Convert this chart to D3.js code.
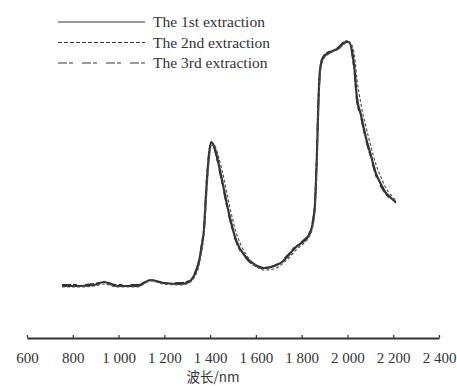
<!DOCTYPE html>
<html><head><meta charset="utf-8">
<script src="https://cdn.jsdelivr.net/npm/d3@7"></script>
<style>body{margin:0;background:#fff}</style>
</head><body>
<svg id="c" width="457" height="387"></svg>
<script>
const wavelengths = [753,827,893,936,993,1080,1141,1198,1272,1307,1329,1351,1364,1373,1386,1395,1404,1417,1425,1438,1452,1482,1513,1556,1591,1635,1679,1714,1744,1775,1810,1832,1845,1858,1866,1874,1883,1896,1918,1962,1993,2006,2019,2032,2041,2059,2080,2102,2124,2146,2168,2190,2211];
const series1 = [0.14,0.14,0.15,0.18,0.14,0.14,0.20,0.17,0.16,0.18,0.24,0.38,0.55,0.70,1.20,1.45,1.58,1.54,1.48,1.35,1.20,0.87,0.60,0.43,0.36,0.32,0.34,0.38,0.45,0.53,0.59,0.65,0.73,0.95,1.40,2.03,2.35,2.43,2.47,2.52,2.58,2.58,2.50,2.28,2.03,1.85,1.63,1.45,1.27,1.16,1.07,1.02,0.98];
const series2 = [0.13,0.13,0.14,0.16,0.13,0.13,0.19,0.16,0.15,0.17,0.22,0.34,0.50,0.64,1.10,1.38,1.54,1.55,1.52,1.42,1.30,0.97,0.68,0.46,0.36,0.30,0.31,0.36,0.42,0.50,0.57,0.63,0.70,0.90,1.32,1.95,2.30,2.41,2.46,2.51,2.57,2.58,2.55,2.42,2.22,1.96,1.74,1.54,1.36,1.23,1.12,1.05,1.00];
const series3 = [0.15,0.15,0.16,0.18,0.15,0.15,0.20,0.17,0.17,0.19,0.25,0.39,0.56,0.72,1.22,1.46,1.57,1.53,1.46,1.33,1.18,0.85,0.59,0.42,0.35,0.32,0.34,0.39,0.46,0.54,0.60,0.66,0.75,0.98,1.45,2.06,2.36,2.44,2.48,2.53,2.59,2.57,2.48,2.25,2.00,1.83,1.61,1.43,1.25,1.14,1.06,1.01,0.97];
const seriesNames = ["The 1st extraction","The 2nd extraction","The 3rd extraction"];
const xTicks = [600,800,1000,1200,1400,1600,1800,2000,2200,2400];
const xTickLabels = ["600","800","1 000","1 200","1 400","1 600","1 800","2 000","2 200","2 400"];
const xTitle = "波长/nm";

const svg = d3.select("#c");
const x = d3.scaleLinear().domain([600,2400]).range([27,439]);
const y = d3.scaleLinear().domain([0,3]).range([300,0]);
const serif = "'Liberation Serif','Times New Roman',serif";
const ink = "#333";

const styles = [
  {dash:null, w:2.2},
  {dash:"3,2", w:1.2},
  {dash:"9,2,4,8", w:1.8}
];
const all = [series1, series2, series3];
const line = d3.line().x(d=>x(d[0])).y(d=>y(d[1])).curve(d3.curveMonotoneX);

[0,2,1].forEach(i=>{
  svg.append("path")
    .datum(wavelengths.map((w,j)=>[w, all[i][j]]))
    .attr("d", line)
    .attr("fill","none")
    .attr("stroke", i===1 ? "#555" : ink)
    .attr("stroke-width", styles[i].w)
    .attr("stroke-dasharray", styles[i].dash);
});

// legend
seriesNames.forEach((n,i)=>{
  const ly = 22 + i*20.5;
  svg.append("line").attr("x1",58).attr("x2",145).attr("y1",ly).attr("y2",ly)
    .attr("stroke",ink).attr("stroke-width",1.2)
    .attr("stroke-dasharray", i===0?null:(i===1?"4,2":"9,2,4,9"));
  svg.append("text").attr("x",153).attr("y",ly+5).text(n)
    .attr("font-family",serif).attr("font-size",15.5).attr("fill",ink);
});

// x axis
const ax = svg.append("g").attr("transform","translate(0,338)")
  .call(d3.axisBottom(x).tickValues(xTicks).tickFormat((d,i)=>xTickLabels[i]).tickSizeInner(-3).tickSizeOuter(0));
ax.select(".domain").attr("stroke",ink).attr("stroke-width",1.8);
ax.selectAll(".tick line").attr("stroke",ink).attr("stroke-width",1.2);
ax.selectAll(".tick text").attr("y",14).attr("dy","0.71em")
  .attr("font-family",serif).attr("font-size",15).attr("fill",ink);

svg.append("text").attr("x",213).attr("y",382).attr("text-anchor","middle")
  .attr("font-family","'Noto Sans CJK SC','Liberation Serif',serif").attr("font-size",13.5)
  .attr("fill",ink).text(xTitle);
</script>
</body></html>
